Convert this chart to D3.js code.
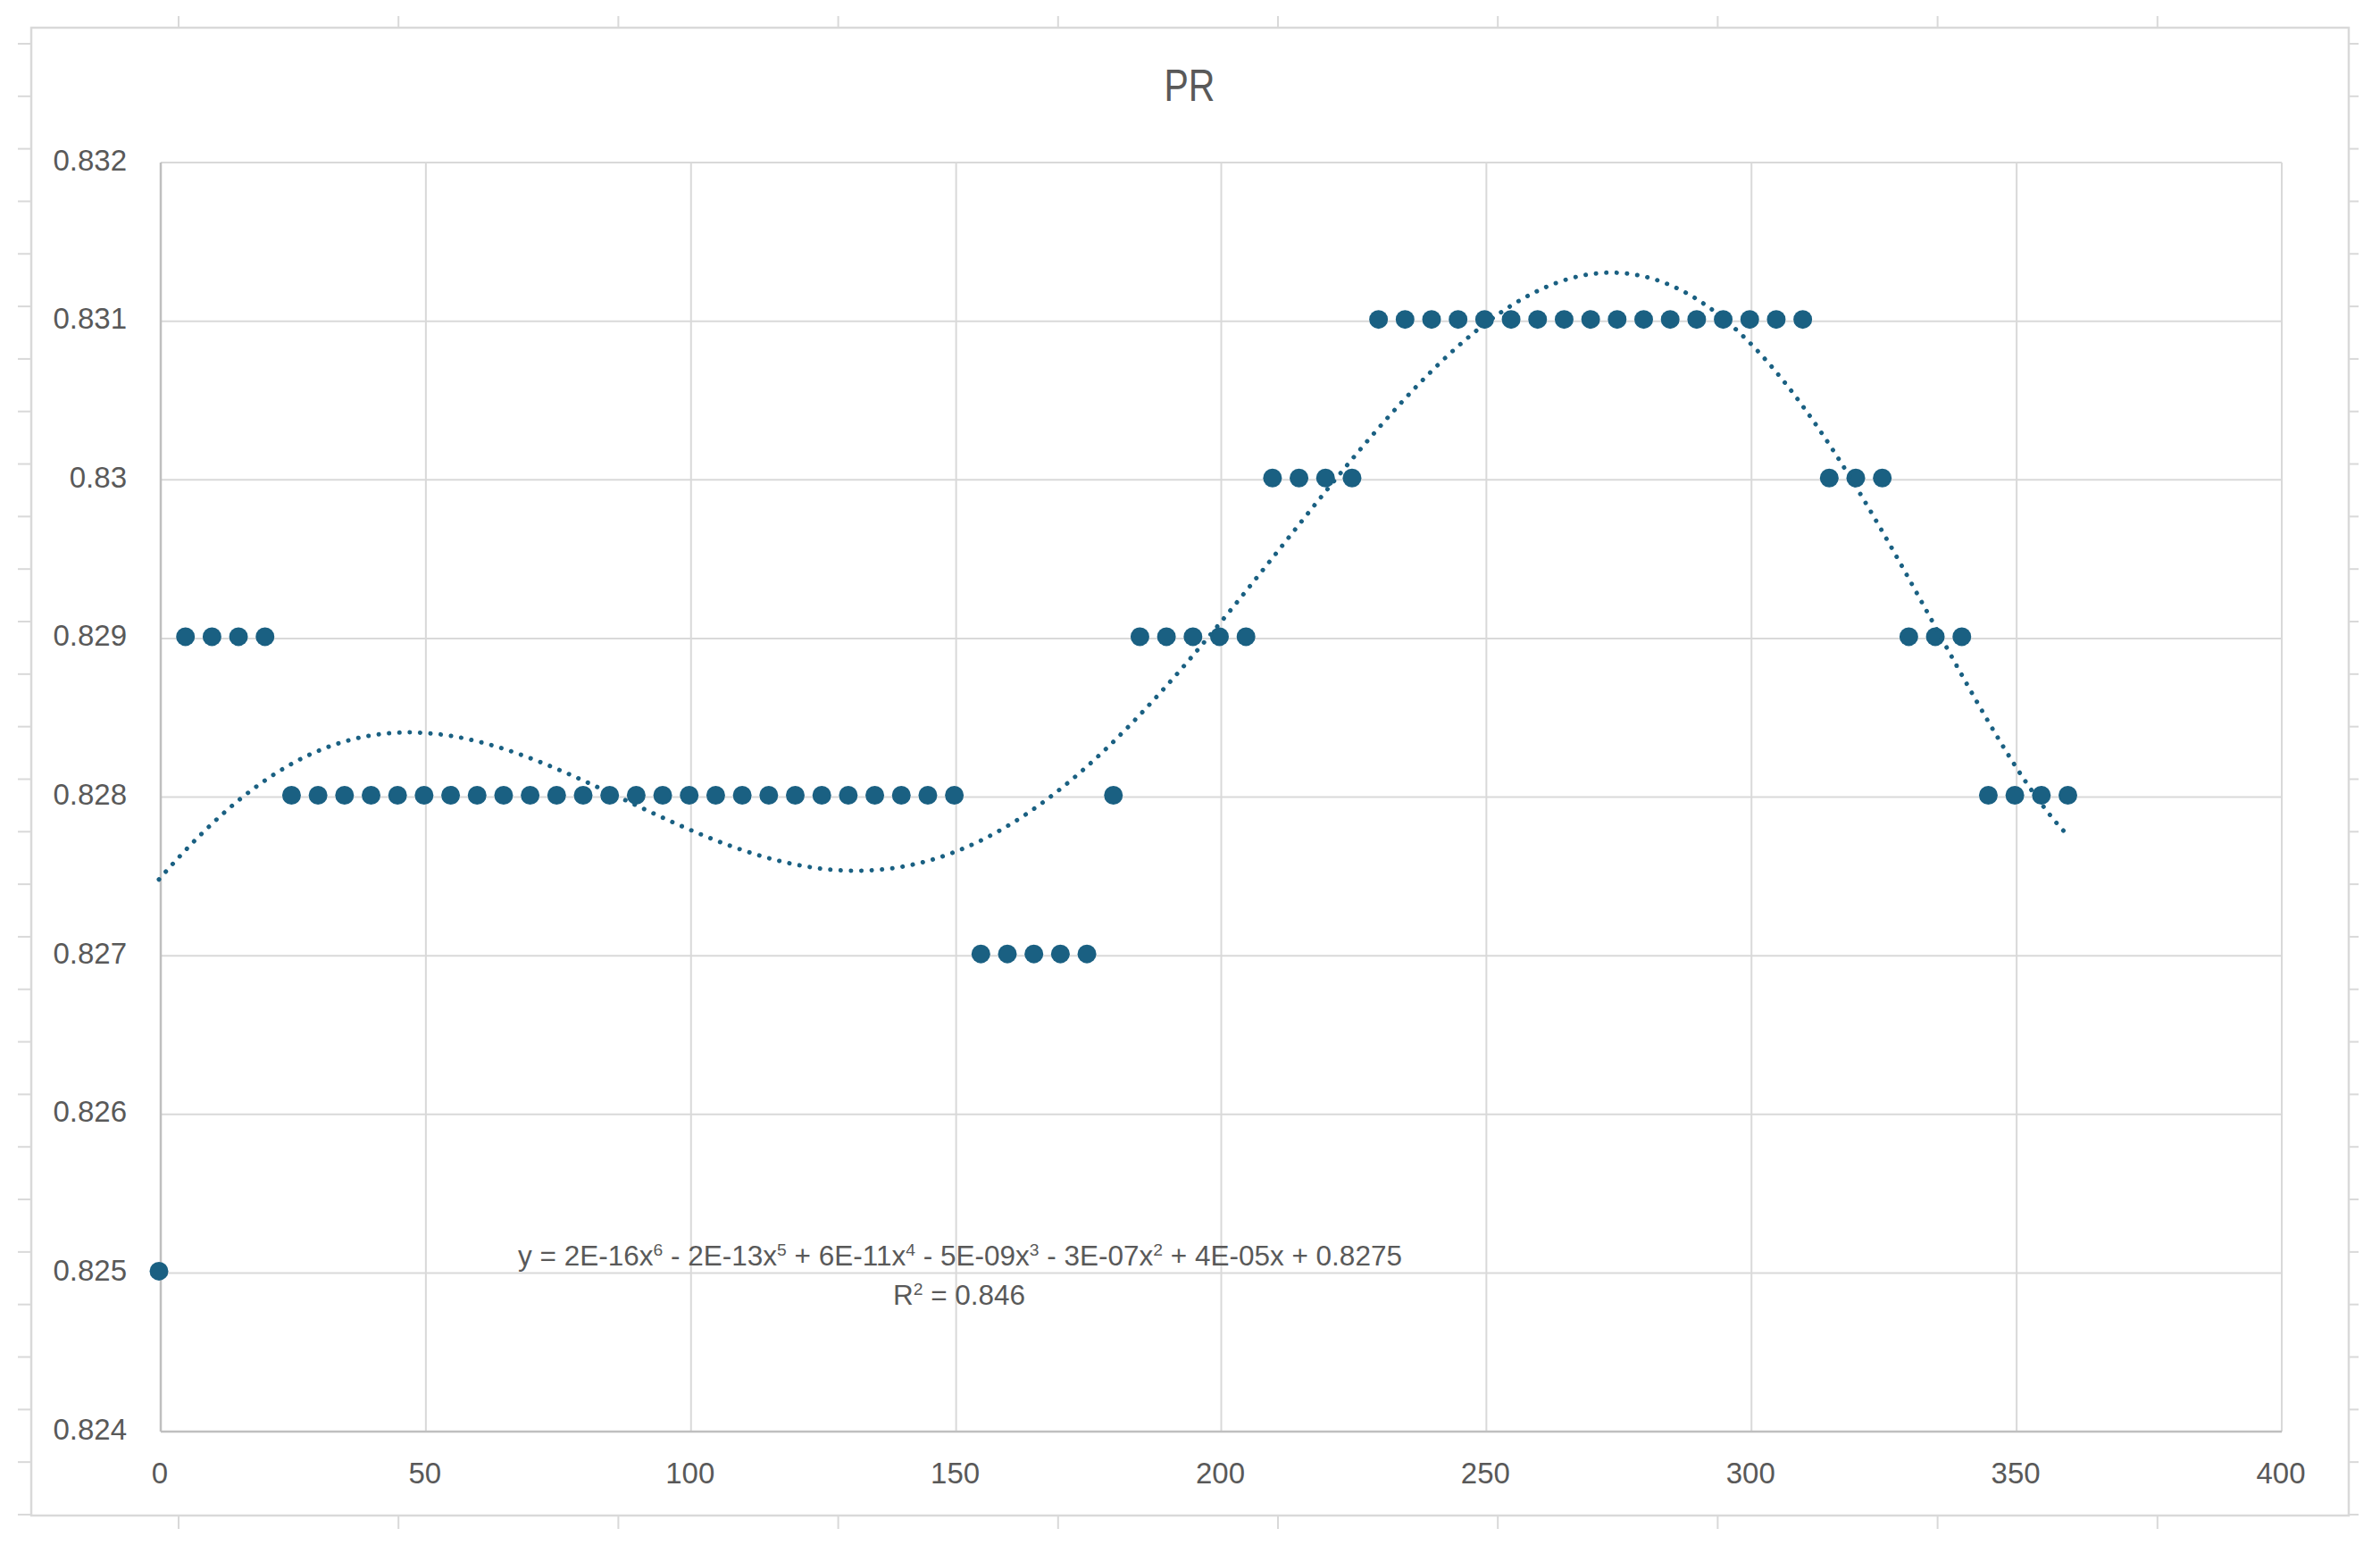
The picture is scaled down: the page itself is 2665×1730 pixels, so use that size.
<!DOCTYPE html>
<html>
<head>
<meta charset="utf-8">
<script src="https://cdn.jsdelivr.net/npm/d3@7"></script>
<style>
  body { margin: 0; background: #fff; }
  text { font-family: "Liberation Sans", Arial, sans-serif; fill: #595959; }
</style>
</head>
<body>
<svg width="2665" height="1730"></svg>
<script>
'use strict';

// PR readings by angle (0..360, step 5)
const angles = [0, 5, 10, 15, 20, 25, 30, 35, 40, 45, 50, 55, 60, 65, 70, 75, 80, 85, 90, 95,
  100, 105, 110, 115, 120, 125, 130, 135, 140, 145, 150, 155, 160, 165, 170, 175, 180, 185, 190, 195,
  200, 205, 210, 215, 220, 225, 230, 235, 240, 245, 250, 255, 260, 265, 270, 275, 280, 285, 290, 295,
  300, 305, 310, 315, 320, 325, 330, 335, 340, 345, 350, 355, 360];

const prValues = [0.825,
  0.829, 0.829, 0.829, 0.829,
  0.828, 0.828, 0.828, 0.828, 0.828, 0.828, 0.828, 0.828, 0.828, 0.828, 0.828, 0.828, 0.828,
  0.828, 0.828, 0.828, 0.828, 0.828, 0.828, 0.828, 0.828, 0.828, 0.828, 0.828, 0.828, 0.828,
  0.827, 0.827, 0.827, 0.827, 0.827,
  0.828,
  0.829, 0.829, 0.829, 0.829, 0.829,
  0.830, 0.830, 0.830, 0.830,
  0.831, 0.831, 0.831, 0.831, 0.831, 0.831, 0.831, 0.831, 0.831, 0.831, 0.831, 0.831, 0.831,
  0.831, 0.831, 0.831, 0.831,
  0.830, 0.830, 0.830,
  0.829, 0.829, 0.829,
  0.828, 0.828, 0.828, 0.828];

const xTicks = [0, 50, 100, 150, 200, 250, 300, 350, 400];
const yTicks = [0.824, 0.825, 0.826, 0.827, 0.828, 0.829, 0.83, 0.831, 0.832];

const title = "PR";
const eqTerms = [["y = 2E-16x", "6"], [" - 2E-13x", "5"], [" + 6E-11x", "4"], [" - 5E-09x", "3"],
  [" - 3E-07x", "2"], [" + 4E-05x + 0.8275", ""]];
const r2Terms = [["R", "2"], [" = 0.846", ""]];

const W = 2665, H = 1730;
const plot = { left: 180, top: 182, right: 2555, bottom: 1603 };
const color = "#1a6082";

let svg = d3.select("svg").attr("viewBox", [0, 0, W, H]);

// spreadsheet cell stubs around the chart frame
let stubs = svg.append("g").attr("stroke", "#d9d9d9").attr("stroke-width", 2);
for (let k = 0; k < 10; k++) {
  let x = 200 + 246.2 * k;
  stubs.append("line").attr("x1", x).attr("x2", x).attr("y1", 18).attr("y2", 31);
  stubs.append("line").attr("x1", x).attr("x2", x).attr("y1", 1697).attr("y2", 1712);
}
for (let k = 0; k < 29; k++) {
  let y = 49 + 58.82 * k;
  stubs.append("line").attr("x1", 20).attr("x2", 35).attr("y1", y).attr("y2", y);
  stubs.append("line").attr("x1", 2630).attr("x2", 2641).attr("y1", y).attr("y2", y);
}

// chart frame
svg.append("rect")
  .attr("x", 35).attr("y", 31).attr("width", 2595).attr("height", 1666)
  .attr("fill", "#fff").attr("stroke", "#d9d9d9").attr("stroke-width", 2.5);

let x = d3.scaleLinear().domain([0, 400]).range([plot.left, plot.right]);
let y = d3.scaleLinear().domain([0.824, 0.832]).range([plot.bottom, plot.top]);

// gridlines
let grid = svg.append("g").attr("stroke", "#d9d9d9").attr("stroke-width", 2);
grid.selectAll(".gx").data(xTicks).join("line")
  .attr("x1", d => x(d)).attr("x2", d => x(d))
  .attr("y1", plot.top).attr("y2", plot.bottom);
grid.selectAll(".gy").data(yTicks).join("line")
  .attr("x1", plot.left).attr("x2", plot.right)
  .attr("y1", d => y(d)).attr("y2", d => y(d));

// axis lines (left, bottom)
let axes = svg.append("g").attr("stroke", "#bfbfbf").attr("stroke-width", 2.5);
axes.append("line").attr("x1", plot.left).attr("x2", plot.left)
  .attr("y1", plot.top).attr("y2", plot.bottom);
axes.append("line").attr("x1", plot.left).attr("x2", plot.right)
  .attr("y1", plot.bottom).attr("y2", plot.bottom);

// tick labels
svg.append("g").selectAll("text").data(yTicks).join("text")
  .attr("x", 142).attr("y", d => y(d) + 8.5)
  .attr("text-anchor", "end").attr("font-size", 33)
  .text(d => String(+d.toFixed(3)));

svg.append("g").selectAll("text").data(xTicks).join("text")
  .attr("x", d => x(d) - 1).attr("y", 1661)
  .attr("text-anchor", "middle").attr("font-size", 33)
  .text(d => d);

// title
let tg = svg.append("g");
let tt = tg.append("text").attr("x", 0).attr("y", 113)
  .attr("text-anchor", "middle").attr("font-size", 50).text(title);
let tw = tt.node().getComputedTextLength();
tg.attr("transform", `translate(1332,0) scale(${57 / tw},1)`);

// data points (Excel draws them a touch up-left of the grid)
let marks = svg.append("g").attr("transform", "translate(-2,-2)");
let pts = angles.map((a, i) => ({ a: a, v: prValues[i] }));
marks.selectAll("circle").data(pts).join("circle")
  .attr("cx", d => x(d.a)).attr("cy", d => y(d.v))
  .attr("r", 10.5).attr("fill", color);

// 6th order polynomial least-squares trendline
function polyfit(xs, ys, deg) {
  let n = deg + 1, c = 180;
  let A = Array.from({ length: n }, () => new Array(n + 1).fill(0));
  xs.forEach((xv, k) => {
    let t = xv / c - 1;
    let p = [];
    for (let j = 0; j < n; j++) p.push(Math.pow(t, j));
    for (let i = 0; i < n; i++) {
      for (let j = 0; j < n; j++) A[i][j] += p[i] * p[j];
      A[i][n] += p[i] * ys[k];
    }
  });
  for (let i = 0; i < n; i++) {
    let m = i;
    for (let r = i + 1; r < n; r++) if (Math.abs(A[r][i]) > Math.abs(A[m][i])) m = r;
    [A[i], A[m]] = [A[m], A[i]];
    for (let r = 0; r < n; r++) {
      if (r === i) continue;
      let f = A[r][i] / A[i][i];
      for (let j = i; j <= n; j++) A[r][j] -= f * A[i][j];
    }
  }
  let coef = A.map((row, i) => row[n] / row[i]);
  return xv => {
    let t = xv / c - 1, s = 0;
    for (let j = n - 1; j >= 0; j--) s = s * t + coef[j];
    return s;
  };
}

let fit = polyfit(angles, prValues, 6);
let trend = d3.range(0, 360.5, 1).map(a => [a, fit(a)]);

marks.append("path")
  .datum(trend)
  .attr("fill", "none")
  .attr("stroke", color)
  .attr("stroke-width", 5)
  .attr("stroke-linecap", "round")
  .attr("stroke-dasharray", "0.1 11.5")
  .attr("d", d3.line().x(d => x(d[0])).y(d => y(d[1])).curve(d3.curveMonotoneX));

// trendline equation label
function richText(g, terms, yBase, size) {
  let t = g.append("text").attr("x", 0).attr("y", yBase)
    .attr("text-anchor", "middle").attr("font-size", size);
  let raised = false;
  terms.forEach(term => {
    t.append("tspan").attr("font-size", size).attr("dy", raised ? 11 : 0).text(term[0]);
    raised = false;
    if (term[1]) {
      t.append("tspan").attr("font-size", 19).attr("dy", -11).text(term[1]);
      raised = true;
    }
  });
  return t;
}

let eg = svg.append("g");
let eq = richText(eg, eqTerms, 1417, 31);
let sx = 990 / eq.node().getComputedTextLength();
eg.attr("transform", `translate(1075,0) scale(${sx},1)`);

let rg = svg.append("g").attr("transform", `translate(1074,0) scale(${sx},1)`);
richText(rg, r2Terms, 1461, 31);
</script>
</body>
</html>
